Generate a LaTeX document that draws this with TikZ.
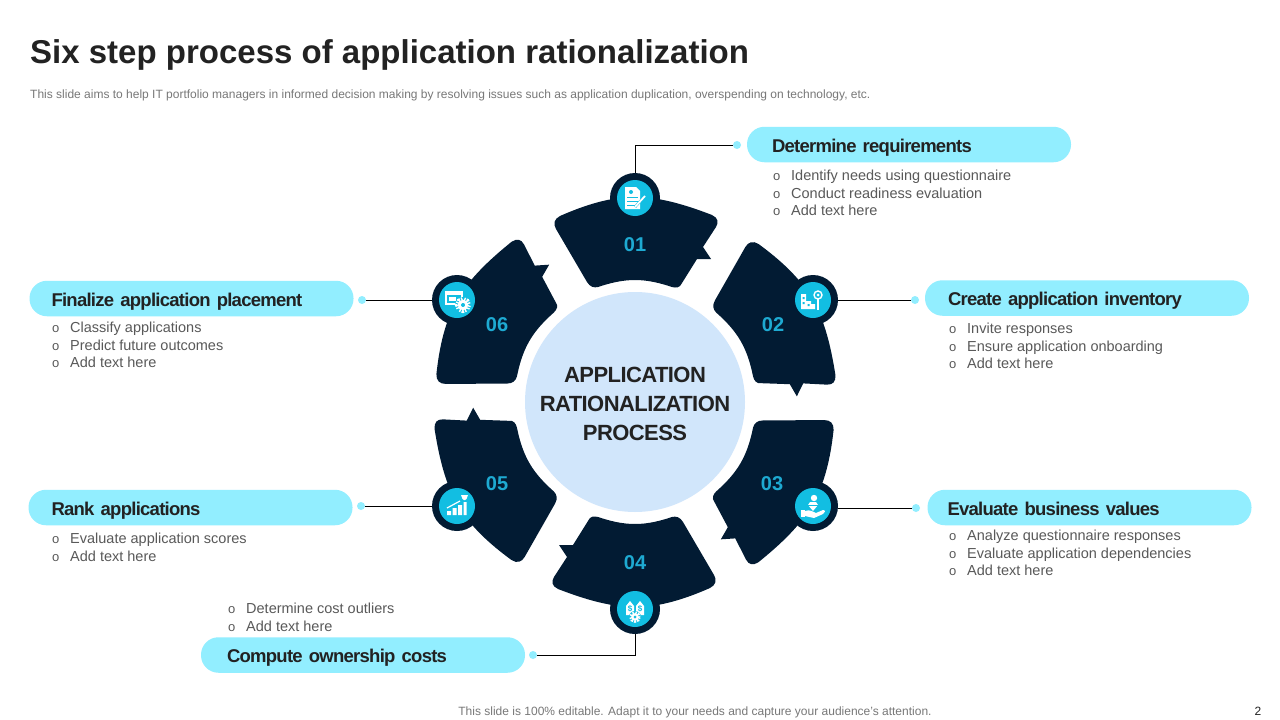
\documentclass[tikz,border=0pt]{standalone}
\usepackage{fontspec}
\setmainfont{Liberation Sans}
\newfontfamily\headfont[LetterSpace=-4, WordSpace=0.4]{Liberation Sans}
\newfontfamily\corefont[LetterSpace=-2.6]{Liberation Sans}
\definecolor{darknavy}{RGB}{2, 27, 51}
\definecolor{pillcyan}{RGB}{146, 238, 255}
\definecolor{iconcyan}{RGB}{18, 190, 226}
\definecolor{numcyan}{RGB}{30, 170, 210}
\definecolor{corepale}{RGB}{209, 230, 251}
\definecolor{bodygrey}{RGB}{89, 89, 89}
\definecolor{notegrey}{RGB}{120, 120, 120}
\definecolor{inkdark}{RGB}{34, 34, 34}
\newcommand{\bulitem}[1]{\makebox[18pt][l]{\fontsize{13}{13}\selectfont o}#1}
\newcommand{\gearmark}[3]{%
  \draw[white, line width=1.1*#3, dash pattern=on 1.4pt off 1.1pt] (#1,#2) circle[radius=#3*1.05];
  \draw[white, line width=#3*.55] (#1,#2) circle[radius=#3*.75];}
\tikzset{
  pillbox/.style={fill=pillcyan, rounded corners=17.5pt, minimum width=324pt, minimum height=35.5pt,
    text width=274pt, inner xsep=25pt, inner ysep=0pt, align=left, text=inkdark,
    text height=15pt, text depth=0pt,
    font=\headfont\fontsize{18.5}{20}\selectfont\bfseries},
  bulletbox/.style={anchor=north west, inner sep=0pt, align=left, text=bodygrey,
    font=\fontsize{14.5}{17.5}\selectfont},
  dotmark/.style={circle, fill=pillcyan, inner sep=0pt, minimum size=8pt},
  iconring/.style={circle, fill=darknavy, inner sep=0pt, minimum size=50pt},
  iconcore/.style={circle, fill=iconcyan, inner sep=0pt, minimum size=36pt},
  stepnum/.style={text=numcyan, font=\fontsize{20}{22}\selectfont\bfseries},
  leadline/.style={draw=black, line width=.75pt}
}
\begin{document}
\begin{tikzpicture}[x=1pt, y=-1pt]
  \useasboundingbox (0,0) rectangle (1280,720);
  \fill[white] (0,0) rectangle (1280,720);

  % heading lines
  \node[anchor=west, inner sep=0pt, text=inkdark, font=\fontsize{33}{36}\selectfont\bfseries] (headline) at (30, 55)
    {Six step process of application rationalization};
  \node[anchor=west, inner sep=0pt, text=notegrey, font=\fontsize{12}{14}\selectfont] (subline) at (30, 95)
    {This slide aims to help IT portfolio managers in informed decision making by resolving issues such as application duplication, overspending on technology, etc.};

  % six segments
  \foreach \ang in {0,-60,-120,-180,-240,-300} {
    \fill[darknavy, rotate around={\ang:(635,402)}]
      (560,216) .. controls (585,205) and (610,197) .. (635,197)
      .. controls (660,197) and (686,205) .. (712,215)
      .. controls (718,218) and (719,222) .. (716,227)
      -- (703,247) -- (711,259) -- (697,259) -- (682,283)
      .. controls (680,288) and (676,288) .. (672,287)
      .. controls (660,283) and (648,280) .. (635,280)
      .. controls (622,280) and (610,283) .. (598,287)
      .. controls (594,288) and (590,287) .. (587,282)
      -- (556,229)
      .. controls (553,224) and (554,219) .. (560,216) -- cycle;
  }
  \node[circle, fill=corepale, minimum size=220pt, inner sep=0pt] (core) at (635, 402) {};
  \node[align=center, inner sep=0pt, text=inkdark, font=\corefont\fontsize{22}{29}\selectfont\bfseries] (coretext) at (635, 404)
    {APPLICATION\\RATIONALIZATION\\PROCESS};

  % step numbers
  \node[stepnum] (numa) at (635, 245) {01};
  \node[stepnum] (numb) at (773, 325) {02};
  \node[stepnum] (numc) at (772, 484) {03};
  \node[stepnum] (numd) at (635, 563) {04};
  \node[stepnum] (nume) at (497, 484) {05};
  \node[stepnum] (numf) at (497, 325) {06};

  % icon rings
  \node[iconring] (ringa) at (635, 198) {};
  \node[iconring] (ringb) at (813, 300) {};
  \node[iconring] (ringc) at (813, 506) {};
  \node[iconring] (ringd) at (635, 609) {};
  \node[iconring] (ringe) at (457, 506) {};
  \node[iconring] (ringf) at (457, 300) {};
  \node[iconcore] (corea) at (ringa) {};
  \node[iconcore] (coreb) at (ringb) {};
  \node[iconcore] (corec) at (ringc) {};
  \node[iconcore] (cored) at (ringd) {};
  \node[iconcore] (coree) at (ringe) {};
  \node[iconcore] (coref) at (ringf) {};

  % document and pen
  \begin{scope}[shift={(ringa)}]
    \fill[white] (-10,-11) -- (1,-11) -- (5,-7) -- (5,11) -- (-10,11) -- cycle;
    \draw[iconcyan, line width=.9pt] (-8,-1) -- (3,-1) (-8,3) -- (3,3) (-8,7) -- (1,7);
    \fill[iconcyan] (-4,-6) circle[radius=2];
    \draw[iconcyan, line width=2.6pt] (0,9) -- (9,-1);
    \draw[white, line width=1.8pt] (0,9) -- (10,-2);
  \end{scope}

  % buildings and magnifier
  \begin{scope}[shift={(ringb)}]
    \fill[white] (-12,-6) rectangle (-7,9) (-7,1) rectangle (-2,9) (-2,4) rectangle (2,9);
    \fill[iconcyan] (-10.5,-3) rectangle (-8.5,-1) (-10.5,2) rectangle (-8.5,4) (-5.5,4) rectangle (-3.5,6);
    \draw[white, line width=1.4pt] (5,-5) circle[radius=4];
    \fill[white] (5,-5) circle[radius=1.5];
    \draw[white, line width=1.8pt] (5,-1) -- (5,10);
  \end{scope}

  % hand, gem and coin
  \begin{scope}[shift={(ringc)}]
    \fill[white] (1,-8) circle[radius=3.2];
    \fill[white] (-5,-1) -- (-3,-4) -- (3,-4) -- (5,-1) -- (0,5) -- cycle;
    \draw[iconcyan, line width=.5pt] (-5,-1) -- (5,-1);
    \fill[white] (-12,4) rectangle (-8,11);
    \fill[white] (-8,5) .. controls (-3,3) and (0,6) .. (3,7) -- (10,4) .. controls (13,4) and (12,7) .. (10,8)
      -- (1,12) -- (-8,10) -- cycle;
  \end{scope}

  % price tags and gear
  \begin{scope}[shift={(ringd)}]
    \fill[white] (-9,-3) -- (-5,-8) -- (-1,-3) -- (-1,6) -- (-9,6) -- cycle;
    \fill[white] (1,-3) -- (5,-8) -- (9,-3) -- (9,6) -- (1,6) -- cycle;
    \node[text=iconcyan, inner sep=0pt, font=\fontsize{8}{8}\selectfont\bfseries] (tagl) at (-5,0) {\$};
    \node[text=iconcyan, inner sep=0pt, font=\fontsize{8}{8}\selectfont\bfseries] (tagr) at (5,0) {\$};
    \fill[iconcyan] (0,8) circle[radius=6];
    \gearmark{0}{8}{3.6}
  \end{scope}

  % bars, arrow and trophy
  \begin{scope}[shift={(ringe)}]
    \fill[white] (-10,5) rectangle (-6,9) (-4.5,2) rectangle (-0.5,9) (1,-1) rectangle (5,9) (6.5,-4) rectangle (9.5,9);
    \draw[white, line width=1.2pt] (-10,2) -- (3,-5);
    \fill[white] (4,-11) -- (11,-11) -- (9.5,-7) -- (8,-6) -- (7,-6) -- (5.5,-7) -- cycle;
  \end{scope}

  % window card and gear
  \begin{scope}[shift={(ringf)}]
    \fill[white] (-12,-9) rectangle (6,5);
    \fill[iconcyan] (-10,-5) rectangle (4,3);
    \fill[white] (-8,-3) rectangle (-1,1);
    \fill[iconcyan] (6,5) circle[radius=8];
    \gearmark{6}{5}{5}
  \end{scope}

  % label pills
  \node[pillbox] (labela) at (909, 144.5) {Determine requirements};
  \node[pillbox, text width=278pt, inner xsep=23pt] (labelb) at (1087, 298) {Create application inventory};
  \node[pillbox, text width=284pt, inner xsep=20pt] (labelc) at (1089.5, 507.5) {Evaluate business values};
  \node[pillbox, text width=272pt, inner xsep=26pt] (labeld) at (363, 655) {Compute ownership costs};
  \node[pillbox, text width=278pt, inner xsep=23pt] (labele) at (190.5, 507.5) {Rank applications};
  \node[pillbox, text width=280pt, inner xsep=22pt] (labelf) at (191.5, 298.5) {Finalize application placement};

  % end dots
  \node[dotmark] (dota) at (737, 145) {};
  \node[dotmark] (dotb) at (915, 300) {};
  \node[dotmark] (dotc) at (916, 508) {};
  \node[dotmark] (dotd) at (533, 655) {};
  \node[dotmark] (dote) at (361, 506) {};
  \node[dotmark] (dotf) at (362, 300) {};

  % connectors
  \draw[leadline] (ringa) |- (dota);
  \draw[leadline] (ringb) -- (dotb);
  \draw[leadline] (ringc.east |- dotc) -- (dotc);
  \draw[leadline] (ringd) |- (dotd);
  \draw[leadline] (ringe) -- (dote);
  \draw[leadline] (ringf) -- (dotf);

  % bullet lists
  \node[bulletbox] (lista) at (773, 170) {\bulitem{Identify needs using questionnaire}\\\bulitem{Conduct readiness evaluation}\\\bulitem{Add text here}};
  \node[bulletbox] (listb) at (949, 323) {\bulitem{Invite responses}\\\bulitem{Ensure application onboarding}\\\bulitem{Add text here}};
  \node[bulletbox] (listc) at (949, 530) {\bulitem{Analyze questionnaire responses}\\\bulitem{Evaluate application dependencies}\\\bulitem{Add text here}};
  \node[bulletbox] (listd) at (228, 603) {\bulitem{Determine cost outliers}\\\bulitem{Add text here}};
  \node[bulletbox] (liste) at (52, 533) {\bulitem{Evaluate application scores}\\\bulitem{Add text here}};
  \node[bulletbox] (listf) at (52, 322) {\bulitem{Classify applications}\\\bulitem{Predict future outcomes}\\\bulitem{Add text here}};

  % foot line
  \node[inner sep=0pt, text=notegrey, font=\fontsize{12}{14}\selectfont] (footnote) at (695, 712)
    {This slide is 100\% editable. Adapt it to your needs and capture your audience's attention.};
  \node[inner sep=0pt, text=inkdark, font=\fontsize{12}{14}\selectfont] (pagenum) at (1258, 711) {2};
\end{tikzpicture}
\end{document}
